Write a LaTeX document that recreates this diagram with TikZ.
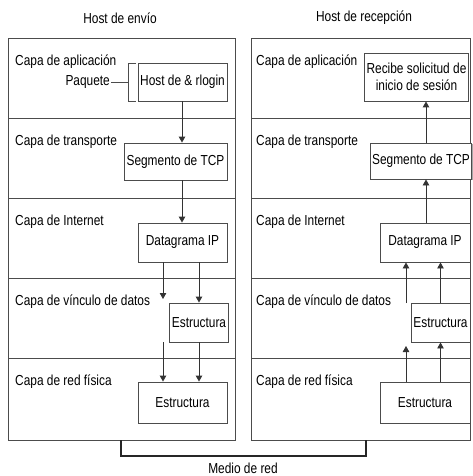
\documentclass[tikz,border=0pt]{standalone}
\usepackage{fontspec}
\setmainfont{Liberation Sans}[FakeStretch=0.82]
\usetikzlibrary{arrows.meta,shadows}

\begin{document}
\begin{tikzpicture}[x=1pt,y=-1pt,
        font=\fontsize{14.5}{17}\selectfont,
        marco/.style={draw=black!70, line width=0.9pt},
        caja/.style={draw=black!70, line width=0.9pt, fill=white, align=center, inner sep=2pt,
            drop shadow={shadow xshift=0.8pt, shadow yshift=-0.8pt, fill=black!35, opacity=1}},
        capa/.style={anchor=west, inner sep=0pt},
        flecha/.style={draw=black!80, line width=0.9pt, -{Triangle[length=6pt,width=6.5pt]}},
        medio/.style={draw=black!85, line width=2.2pt}]
        \useasboundingbox (0,0) rectangle (472,476);

        % titulos
        \node (tituloE) at (120,18) {Host de envío};
        \node (tituloR) at (364,18) {Host de recepción};

        % marcos de capas
        \draw[marco] (8,38) rectangle (235,440);
        \draw[marco] (251,38) rectangle (470,440);
        \foreach \y in {118,198,278,358} {
            \draw[marco] (8,\y) -- (235,\y);
            \draw[marco] (251,\y) -- (470,\y);
        }
        \foreach \t [count=\i] in {Capa de aplicación,Capa de transporte,Capa de Internet,Capa de vínculo de datos,Capa de red física} {
            \node[capa] (capaE\i) at (15,{38+80*(\i-1)+24}) {\t};
            \node[capa] (capaR\i) at (256,{38+80*(\i-1)+24}) {\t};
        }

        % host de envio
        \node[caja, minimum width=89pt, minimum height=38pt] (hostE) at (182.5,82) {Host de \& rlogin};
        \node[caja, minimum width=103pt, minimum height=37pt] (tcpE) at (175.5,161.5) {Segmento de TCP};
        \node[caja, minimum width=89pt, minimum height=39pt] (ipE) at (182.5,242.5) {Datagrama IP};
        \node[caja, minimum width=57pt, minimum height=39pt] (estE) at (199,322.5) {Estructura};
        \node[caja, minimum width=89pt, minimum height=41pt] (fisE) at (182.5,402.5) {Estructura};

        \node[anchor=east, inner sep=1pt] (paquete) at (111,82) {Paquete};
        \coordinate (corchete) at (128,82);
        \draw[marco] (paquete.east) -- (corchete);
        \draw[marco] (136,63) -- (128,63) -- (128,101) -- (136,101);

        \coordinate (ejeE) at (182,0);
        \coordinate (izqE) at (163,299);
        \coordinate (izqE2) at (163,342);
        \draw[flecha] (ejeE |- hostE.south) -- (ejeE |- tcpE.north);
        \draw[flecha] (ejeE |- tcpE.south) -- (ejeE |- ipE.north);
        \draw[flecha] (izqE |- ipE.south) -- (izqE);
        \draw[flecha] (estE.north |- ipE.south) -- (estE.north);
        \draw[flecha] (izqE2) -- (izqE2 |- fisE.north);
        \draw[flecha] (estE.south) -- (estE.south |- fisE.north);

        % host de recepcion
        \node[caja, minimum width=103pt, minimum height=48pt] (recR) at (416.5,77) {Recibe solicitud de\\inicio de sesión};
        \node[caja, minimum width=98pt, minimum height=36pt] (tcpR) at (421,161) {Segmento de TCP};
        \node[caja, minimum width=90pt, minimum height=39pt] (ipR) at (425,242.5) {Datagrama IP};
        \node[caja, minimum width=59pt, minimum height=39pt] (estR) at (440.5,322.5) {Estructura};
        \node[caja, minimum width=90pt, minimum height=41pt] (fisR) at (425,402.5) {Estructura};

        \coordinate (ejeR) at (426,0);
        \coordinate (izqR) at (406,303);
        \coordinate (izqR2) at (406,346);
        \draw[flecha] (ejeR |- tcpR.north) -- (ejeR |- recR.south);
        \draw[flecha] (ejeR |- ipR.north) -- (ejeR |- tcpR.south);
        \draw[flecha] (izqR) -- (izqR |- ipR.south);
        \draw[flecha] (estR.north) -- (estR.north |- ipR.south);
        \draw[flecha] (izqR |- fisR.north) -- (izqR2);
        \draw[flecha] (estR.south |- fisR.north) -- (estR.south);

        % medio de red
        \coordinate (medioE) at (121,440);
        \coordinate (medioR) at (366,440);
        \draw[medio] (medioE) -- ++(0,16) -| (medioR);
        \node (medio) at (243,468) {Medio de red};
\end{tikzpicture}
\end{document}
